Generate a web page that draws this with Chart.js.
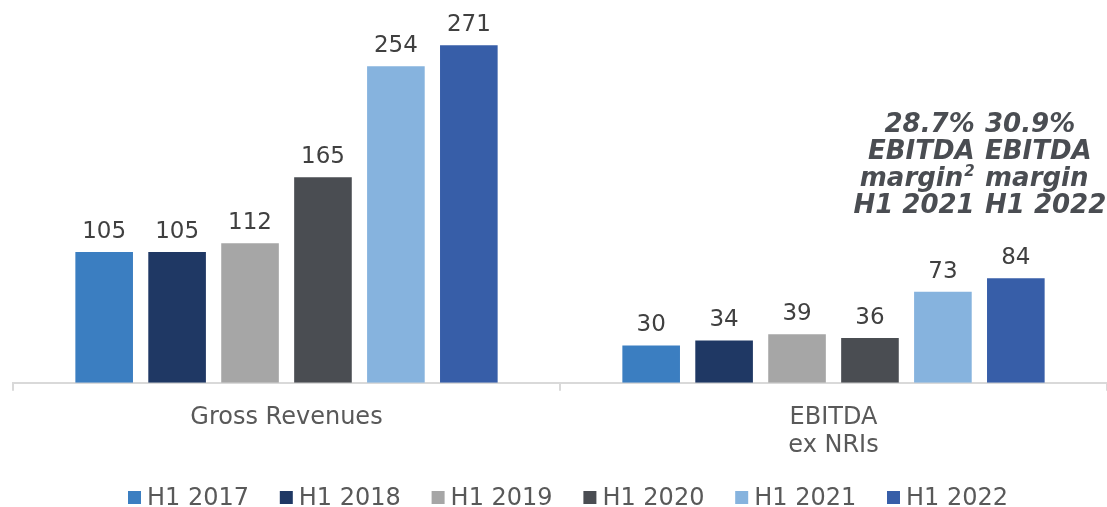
<!DOCTYPE html>
<html>
<head>
<meta charset="utf-8">
<script src="https://cdn.jsdelivr.net/npm/chart.js@4"></script>
<style>
  html, body { margin: 0; padding: 0; background: #fff; }
  #wrap { width: 1107px; height: 507px; }
</style>
</head>
<body>
<div id="wrap"><canvas id="barChart"></canvas></div>
<script>
const categories = ['Gross Revenues', ['EBITDA', 'ex NRIs']];
const seriesNames = ['H1 2017', 'H1 2018', 'H1 2019', 'H1 2020', 'H1 2021', 'H1 2022'];
const h1_2017 = [105, 30];
const h1_2018 = [105, 34];
const h1_2019 = [112, 39];
const h1_2020 = [165, 36];
const h1_2021 = [254, 73];
const h1_2022 = [271, 84];
const marginNotes = [
  ['28.7%', 'EBITDA', 'margin', 'H1 2021'],
  ['30.9%', 'EBITDA', 'margin', 'H1 2022']
];

const colors = ['#3b7ec1', '#1f3864', '#a6a6a6', '#4a4d52', '#86b3de', '#375ea8'];
const series = [h1_2017, h1_2018, h1_2019, h1_2020, h1_2021, h1_2022];
const FONT = '"DejaVu Sans", sans-serif';

// values above each bar
const valueLabels = {
  id: 'valueLabels',
  afterDatasetsDraw(chart) {
    const ctx = chart.ctx;
    ctx.save();
    ctx.font = '23px ' + FONT;
    ctx.fillStyle = '#404040';
    ctx.textAlign = 'center';
    ctx.textBaseline = 'alphabetic';
    chart.data.datasets.forEach((ds, i) => {
      chart.getDatasetMeta(i).data.forEach((bar, j) => {
        ctx.fillText(ds.data[j], bar.x, bar.y - 14);
      });
    });
    ctx.restore();
  }
};

// the two margin notes over the last EBITDA bars
const marginText = {
  id: 'marginText',
  afterDatasetsDraw(chart) {
    const ctx = chart.ctx;
    const b1 = chart.getDatasetMeta(4).data[1];
    const b2 = chart.getDatasetMeta(5).data[1];
    const x1 = b1.x + b1.width / 2 + 3;
    const x2 = b2.x - b2.width / 2 - 2;
    const base = 132, step = 27;
    const big = 'italic bold 26px ' + FONT;
    const small = 'italic bold 15px ' + FONT;
    ctx.save();
    ctx.fillStyle = '#4a4d52';
    ctx.textBaseline = 'alphabetic';
    ctx.textAlign = 'right';
    marginNotes[0].forEach((t, k) => {
      const y = base + k * step;
      if (k === 2) {
        ctx.font = small;
        const sw = ctx.measureText('2').width;
        ctx.fillText('2', x1, y - 10);
        ctx.font = big;
        ctx.fillText(t, x1 - sw - 1, y);
      } else {
        ctx.font = big;
        ctx.fillText(t, x1, y);
      }
    });
    ctx.font = big;
    ctx.textAlign = 'left';
    marginNotes[1].forEach((t, k) => {
      ctx.fillText(t, x2, base + k * step);
    });
    ctx.restore();
  }
};

// legend row at the bottom
const bottomLegend = {
  id: 'bottomLegend',
  afterDraw(chart) {
    const ctx = chart.ctx;
    const start = 128, pitch = 151.8, size = 13, base = 505;
    ctx.save();
    ctx.font = '24px ' + FONT;
    ctx.textBaseline = 'alphabetic';
    ctx.textAlign = 'left';
    chart.data.datasets.forEach((ds, i) => {
      const x = start + i * pitch;
      ctx.fillStyle = ds.backgroundColor;
      ctx.fillRect(x, base - size - 1, size, size);
      ctx.fillStyle = '#595959';
      ctx.fillText(ds.label, x + size + 6, base);
    });
    ctx.restore();
  }
};

new Chart(document.getElementById('barChart'), {
  type: 'bar',
  data: {
    labels: categories,
    datasets: seriesNames.map((name, i) => ({
      label: name,
      data: series[i],
      backgroundColor: colors[i],
      borderWidth: 0,
      categoryPercentage: 0.8,
      barPercentage: 0.79
    }))
  },
  options: {
    responsive: true,
    maintainAspectRatio: false,
    animation: false,
    layout: { padding: { top: 9, left: 13, right: -5, bottom: 34 } },
    plugins: {
      tooltip: { enabled: false },
      legend: { display: false }
    },
    scales: {
      x: {
        offset: true,
        grid: {
          offset: true,
          drawOnChartArea: false,
          color: '#d9d9d9',
          tickLength: 8,
          lineWidth: 2
        },
        border: { color: '#d9d9d9', width: 2 },
        ticks: {
          color: '#595959',
          font: { family: FONT, size: 24, lineHeight: 1.17 },
          padding: 13,
          maxRotation: 0
        }
      },
      y: {
        display: false,
        min: 0,
        max: 300
      }
    }
  },
  plugins: [valueLabels, marginText, bottomLegend]
});
</script>
</body>
</html>
